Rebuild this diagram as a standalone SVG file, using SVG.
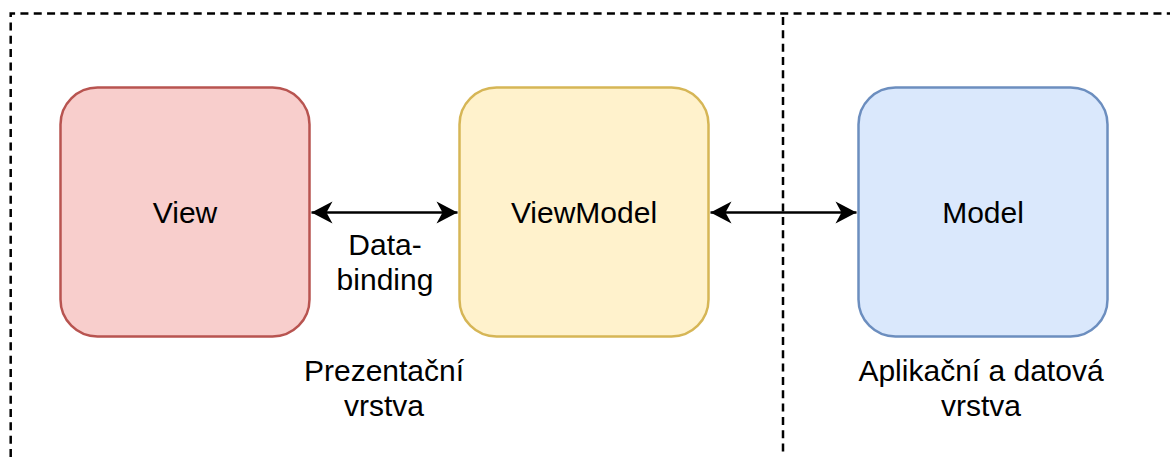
<svg xmlns="http://www.w3.org/2000/svg" width="1173" height="457" viewBox="0 0 1173 457">
<style>
.frame{fill:none;stroke:#000;stroke-width:2.5;stroke-dasharray:8 5.33}
.box{stroke-width:2.5}
.t{font-family:"Liberation Sans",Arial,sans-serif;font-size:30px;fill:#000;text-anchor:middle}
.conn{stroke:#000;stroke-width:2.5;fill:none}
</style>
<defs>
<marker id="arr" markerUnits="userSpaceOnUse" markerWidth="24" markerHeight="24" viewBox="0 0 22 24" refX="21" refY="12" orient="auto-start-reverse">
<path d="M21,12 L0,1 L6,12 L0,23 Z" fill="#000"/>
</marker>
</defs>
<rect width="1173" height="457" fill="#fff"/>
<g id="frame">
<path class="frame" d="M10.7,457 V13.5 H1170"/>
<path class="frame" d="M783,17 V462"/>
</g>
<g id="view">
<rect class="box" x="60.5" y="87.5" width="249" height="249" rx="37" fill="#f8cecc" stroke="#b85450"/>
<text class="t" x="185" y="223">View</text>
</g>
<g id="viewmodel">
<rect class="box" x="459.5" y="87.5" width="249" height="249" rx="37" fill="#fff2cc" stroke="#d6b656"/>
<text class="t" x="584" y="223">ViewModel</text>
</g>
<g id="model">
<rect class="box" x="858.5" y="87.5" width="249" height="249" rx="37" fill="#dae8fc" stroke="#6c8ebf"/>
<text class="t" x="983" y="223">Model</text>
</g>
<g id="connectors">
<line class="conn" x1="311.5" y1="212.5" x2="457.5" y2="212.5" marker-start="url(#arr)" marker-end="url(#arr)"/>
<line class="conn" x1="710.5" y1="212.5" x2="856.5" y2="212.5" marker-start="url(#arr)" marker-end="url(#arr)"/>
</g>
<g id="labels">
<text class="t" x="385" y="255">Data-</text>
<text class="t" x="385" y="290">binding</text>
<text class="t" x="384" y="381">Prezentační</text>
<text class="t" x="384" y="416">vrstva</text>
<text class="t" x="981" y="381">Aplikační a datová</text>
<text class="t" x="981" y="416">vrstva</text>
</g>
</svg>
